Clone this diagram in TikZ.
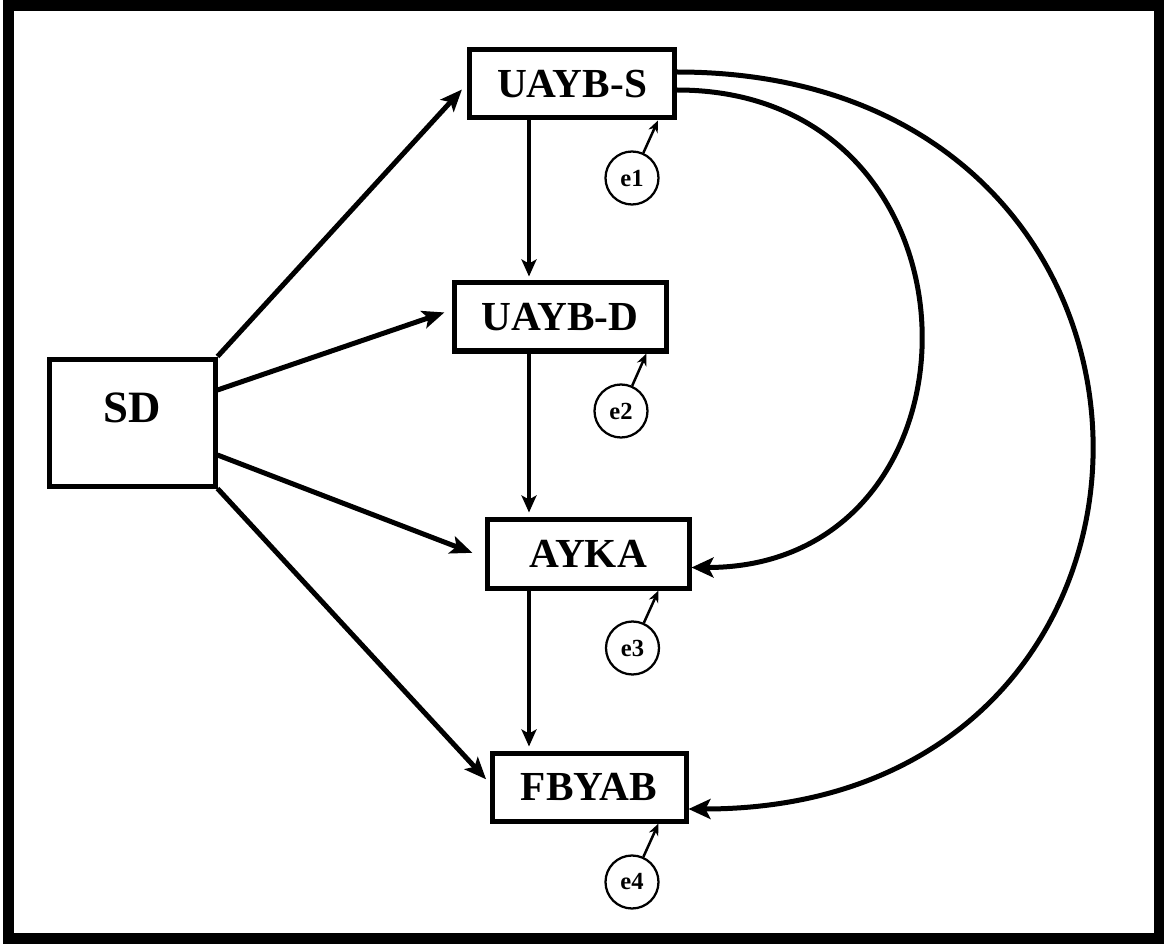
\documentclass[tikz,border=0pt]{standalone}
\usepackage{fontspec}
\setmainfont{Liberation Serif}
\usetikzlibrary{calc,arrows.meta}

\begin{document}
\begin{tikzpicture}[thick,
  var/.style={draw,line width=0.1cm,inner sep=0,font=\fontsize{23.5}{26}\selectfont\bfseries},
  err/.style={draw,circle,line width=0.045cm,minimum size=1.06cm,inner sep=0,font=\fontsize{14}{16}\selectfont\bfseries},
  path/.style={line width=0.1cm,-{Stealth[length=0.44cm,width=0.36cm,inset=0.1cm]},shorten >=0.15cm},
  vpath/.style={line width=0.065cm,-{Stealth[length=0.34cm,width=0.3cm,inset=0.08cm]},shorten >=0.08cm},
  cpath/.style={line width=0.1cm,-{Stealth[length=0.44cm,width=0.4cm,inset=0.1cm]}},
  epath/.style={line width=0.05cm,-{Stealth[length=0.24cm,width=0.2cm]}}]

\useasboundingbox (0,0) rectangle (23.28,-18.88);

\draw [line width=0.22cm] (0.16,-0.12) rectangle (23.18,-18.77);

\node [var,minimum width=4.1cm,minimum height=1.36cm] (uaybs) at (11.44,-1.68) {UAYB-S};
\node [var,minimum width=4.24cm,minimum height=1.36cm] (uaybd) at (11.2,-6.34) {UAYB-D};
\node [var,minimum width=4.04cm,minimum height=1.38cm] (ayka) at (11.76,-11.07) {AYKA};
\node [var,minimum width=3.88cm,minimum height=1.36cm] (fbyab) at (11.78,-15.74) {FBYAB};
\node [var,minimum width=3.3cm,minimum height=2.54cm,text depth=0.6cm,font=\fontsize{25.5}{28}\selectfont\bfseries] (sd) at (2.65,-8.45) {SD};

\node [err] (e1) at (12.64,-3.56) {e1};
\node [err] (e2) at (12.42,-8.22) {e2};
\node [err] (e3) at (12.65,-12.96) {e3};
\node [err] (e4) at (12.64,-17.64) {e4};

% from SD
\draw [path] (sd.north east) -- (uaybs.west);
\draw [path] ([yshift=0.65cm]sd.east) -- ([yshift=0.14cm]uaybd.west);
\draw [path,shorten >=0.26cm] ([yshift=-0.65cm]sd.east) -- ([yshift=-0.08cm]ayka.west);
\draw [path,shorten >=0.1cm] (sd.south east) -- ([yshift=0.08cm]fbyab.west);

% chain
\draw [vpath] (10.58,0 |- uaybs.south) -- (10.58,0 |- uaybd.north);
\draw [vpath] (10.58,0 |- uaybd.south) -- (10.58,0 |- ayka.north);
\draw [vpath] (10.58,0 |- ayka.south) -- (10.58,0 |- fbyab.north);

% curved paths
\draw [cpath] ([yshift=-0.12cm]uaybs.east) .. controls +(6.43,0) and +(6.15,0) .. ([yshift=-0.28cm]ayka.east);
\draw [cpath] ([yshift=0.24cm]uaybs.east) .. controls +(11,0) and +(10.78,0) .. ([yshift=-0.44cm]fbyab.east);

% errors
\draw [epath] (e1) -- ([xshift=-0.38cm]uaybs.south east);
\draw [epath] (e2) -- ([xshift=-0.44cm]uaybd.south east);
\draw [epath] (e3) -- ([xshift=-0.66cm]ayka.south east);
\draw [epath] (e4) -- ([xshift=-0.6cm]fbyab.south east);

\end{tikzpicture}
\end{document}
